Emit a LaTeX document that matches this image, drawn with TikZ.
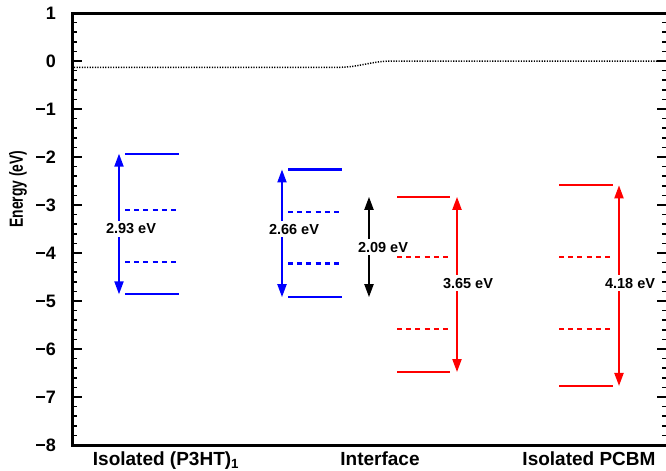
\documentclass[tikz,border=0pt]{standalone}
\usepackage{fontspec}
\setmainfont{Liberation Sans}
\usetikzlibrary{arrows.meta}

\def\plotframe{(72,-8) rectangle (667,1)}
\colorlet{donor level}{blue}
\colorlet{acceptor level}{red}
\tikzset{level/.style={line width=2.2bp},
    virtual/.style={line width=2.2bp, dash pattern=on 5bp off 4.2bp},
    gap/.style={line width=2bp, {Triangle[length=13bp,width=9bp]}-{Triangle[length=13bp,width=9bp]}},
    gap label/.style={fill=white, inner xsep=1bp, inner ysep=3bp, font=\fontsize{14.5bp}{17bp}\selectfont\bfseries},
    tick label/.style={anchor=east, inner sep=0pt, font=\fontsize{18bp}{20bp}\selectfont\bfseries},
    axis title/.style={anchor=base, font=\fontsize{19bp}{22bp}\selectfont\bfseries}}

\begin{document}
\begin{tikzpicture}[x=1bp, y=48bp]
  \useasboundingbox (0,-8.521) rectangle (666,1.271);
  % frame and ticks
  \draw[line width=3bp] \plotframe;
  \foreach \e in {-8,...,1} {
    \draw[line width=1.6bp] (72,\e) -- ++(10,0);
    \draw[line width=1.6bp] (667,\e) -- ++(-10,0);
    \node[tick label] (tick\e) at (56,\e) {\ifnum\e<0 −\the\numexpr-\e\relax\else\e\fi};
  }
  \foreach \e in {-8,...,0}
    \foreach \m in {0.2,0.4,0.6,0.8} {
      \draw[line width=1.6bp] (72,\e+\m) -- ++(5,0);
      \draw[line width=1.6bp] (667,\e+\m) -- ++(-5,0);
    }
  \node[rotate=90, font=\fontsize{19bp}{21bp}\selectfont\bfseries] (energy) at (18,-2.67) {\scalebox{0.73}[1]{Energy (eV)}};
  \node[axis title] (p3ht) at (166,-8.42) {Isolated (P3HT)\textsubscript{1}};
  \node[axis title] (iface) at (380,-8.42) {Interface};
  \node[axis title] (pcbm) at (589,-8.42) {Isolated PCBM};

  % vacuum level
  \draw[line width=1.5bp, dash pattern=on 1.2bp off 1.4bp] (74,-0.13) -- (342,-0.13)
    .. controls (360,-0.12) and (372,0) .. (393,0) -- (665,0);

  % gaps
  \coordinate (p3ht lumo) at (119,-1.93);
  \coordinate (p3ht homo) at (119,-4.86);
  \coordinate (iface lumo) at (282,-2.26);
  \coordinate (iface homo) at (282,-4.92);
  \coordinate (ct top) at (369,-2.83);
  \coordinate (ct bottom) at (369,-4.92);
  \coordinate (iface pcbm lumo) at (457,-2.83);
  \coordinate (iface pcbm homo) at (457,-6.48);
  \coordinate (pcbm lumo) at (619,-2.59);
  \coordinate (pcbm homo) at (619,-6.77);
  \draw[gap, donor level] (p3ht lumo) -- (p3ht homo);
  \draw[gap, donor level] (iface lumo) -- (iface homo);
  \draw[gap] (ct top) -- (ct bottom);
  \draw[gap, acceptor level] (iface pcbm lumo) -- (iface pcbm homo);
  \draw[gap, acceptor level] (pcbm lumo) -- (pcbm homo);
  \node[gap label] (p3ht gap) at (131,-3.5) {2.93 eV};
  \node[gap label] (iface gap) at (294,-3.5) {2.66 eV};
  \node[gap label] (ct gap) at (383,-3.88) {2.09 eV};
  \node[gap label] (iface pcbm gap) at (468,-4.63) {3.65 eV};
  \node[gap label] (pcbm gap) at (630,-4.63) {4.18 eV};

  % levels
  \foreach \y in {-1.93,-4.86} \draw[level, donor level] (125,\y) -- (179,\y);
  \foreach \y in {-3.11,-4.19} \draw[virtual, donor level] (125,\y) -- (179,\y);
  \foreach \y in {-2.26,-4.92} \draw[level, donor level] (288,\y) -- (342,\y);
  \foreach \y in {-3.15,-4.22} \draw[virtual, donor level] (288,\y) -- (342,\y);
  \foreach \y in {-2.83,-6.48} \draw[level, acceptor level] (397,\y) -- (450,\y);
  \foreach \y in {-4.08,-5.59} \draw[virtual, acceptor level] (397,\y) -- (450,\y);
  \foreach \y in {-2.59,-6.77} \draw[level, acceptor level] (559,\y) -- (613,\y);
  \foreach \y in {-4.08,-5.59} \draw[virtual, acceptor level] (559,\y) -- (613,\y);
\end{tikzpicture}
\end{document}
